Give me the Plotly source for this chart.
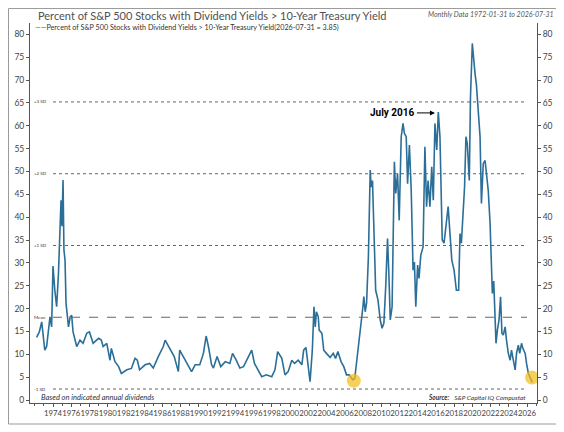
import plotly.graph_objects as go

# series (decimal year, percent)
years = [
    1972.2, 1972.5, 1972.76, 1972.94, 1973.1, 1973.3, 1973.5, 1973.67, 1973.85,
    1974.0, 1974.2, 1974.4, 1974.6, 1974.77, 1974.88, 1974.98, 1975.1, 1975.2,
    1975.32, 1975.43, 1975.7, 1975.88, 1976.05, 1976.2, 1976.6, 1976.96, 1977.3,
    1977.7, 1978.0, 1978.4, 1979.0, 1979.3, 1979.5, 1979.9, 1980.25, 1980.4,
    1980.8, 1981.2, 1981.5, 1982.1, 1982.6, 1983.0, 1983.25, 1983.5, 1984.1,
    1984.6, 1985.0, 1985.55, 1986.1, 1986.3, 1986.9, 1987.3, 1987.75, 1987.9,
    1988.2, 1988.7, 1989.2, 1989.6, 1990.1, 1990.5, 1990.8, 1991.05, 1991.4,
    1991.6, 1992.0, 1992.4, 1992.9, 1993.4, 1993.7, 1994.1, 1994.5, 1994.9,
    1995.4, 1995.8, 1996.1, 1996.5, 1996.9, 1997.4, 1998.0, 1998.35, 1998.65,
    1999.1, 1999.45, 1999.8, 2000.2, 2000.5, 2000.9, 2001.3, 2001.5, 2001.75,
    2001.98, 2002.2, 2002.45, 2002.63, 2002.77, 2002.9, 2003.1, 2003.2, 2003.5,
    2003.7, 2004.0, 2004.4, 2004.75, 2005.0, 2005.25, 2005.6, 2005.9, 2006.2,
    2006.5, 2006.9, 2007.1, 2007.4, 2007.7, 2008.0, 2008.1, 2008.25, 2008.4,
    2008.6, 2008.8, 2008.9, 2009.05, 2009.2, 2009.4, 2009.65, 2009.9, 2010.1,
    2010.3, 2010.5, 2010.7, 2010.85, 2011.0, 2011.2, 2011.45, 2011.6, 2011.8,
    2011.98, 2012.2, 2012.4, 2012.55, 2012.75, 2012.9, 2013.1, 2013.3, 2013.5,
    2013.65, 2013.8, 2014.0, 2014.15, 2014.35, 2014.6, 2014.8, 2014.98, 2015.15,
    2015.35, 2015.55, 2015.72, 2015.9, 2016.1, 2016.27, 2016.45, 2016.7, 2016.9,
    2017.1, 2017.35, 2017.55, 2017.75, 2018.0, 2018.25, 2018.5, 2018.65, 2018.8,
    2019.0, 2019.15, 2019.3, 2019.45, 2019.67, 2019.8, 2020.0, 2020.1, 2020.3,
    2020.45, 2020.65, 2020.85, 2021.0, 2021.2, 2021.4, 2021.6, 2021.75, 2021.95,
    2022.1, 2022.2, 2022.35, 2022.45, 2022.6, 2022.75, 2022.93, 2023.1, 2023.25,
    2023.4, 2023.6, 2023.75, 2023.95, 2024.15, 2024.3, 2024.5, 2024.7, 2024.85,
    2025.05, 2025.2, 2025.4, 2025.55, 2025.8, 2025.95, 2026.15, 2026.58,
]
values = [
    13.7, 14.9, 17.1, 13.8, 10.9, 11.7, 15.3, 18.2, 16.0,
    29.3, 24.0, 20.4, 27.7, 36.4, 43.7, 38.0, 48.1, 32.8,
    30.6, 21.2, 16.0, 18.2, 18.5, 14.9, 11.7, 13.1, 12.4,
    14.6, 14.9, 12.4, 13.5, 13.1, 11.7, 12.4, 8.7, 11.3,
    8.4, 7.3, 5.8, 6.6, 6.9, 9.1, 8.7, 6.6, 7.7,
    8.0, 7.0, 9.5, 11.7, 13.1, 10.9, 9.5, 6.2, 10.9,
    9.8, 8.0, 6.2, 7.7, 7.7, 10.2, 14.0, 11.7, 7.7,
    7.0, 9.5, 7.3, 8.4, 8.0, 10.2, 8.7, 7.0, 7.3,
    9.5, 10.9, 8.0, 6.6, 5.1, 5.5, 5.1, 6.6, 10.6,
    9.1, 5.5, 6.2, 8.7, 8.0, 8.7, 7.7, 10.9, 11.5,
    7.3, 4.0, 10.9, 20.4, 16.0, 19.3, 18.2, 15.3, 14.6,
    10.9, 10.2, 9.3, 10.2, 9.1, 10.6, 8.4, 7.3, 5.5,
    5.5, 4.4, 4.7, 9.5, 14.6, 20.4, 22.6, 19.3, 21.2,
    31.3, 50.3, 46.6, 48.0, 38.6, 24.0, 21.9, 17.5, 15.7,
    16.8, 24.8, 35.3, 27.4, 17.5, 20.4, 52.1, 45.2, 49.5,
    39.3, 57.6, 60.5, 58.3, 57.6, 47.3, 55.8, 45.8, 28.4,
    30.2, 20.4, 29.5, 26.6, 31.7, 33.5, 55.4, 42.3, 48.0,
    42.3, 51.0, 43.7, 60.5, 54.7, 63.0, 57.6, 35.0, 34.3,
    38.6, 42.3, 36.4, 30.6, 28.4, 24.0, 24.0, 36.4, 34.3,
    41.5, 46.6, 57.6, 56.1, 48.0, 66.3, 78.0, 75.0, 71.4,
    69.0, 64.1, 57.6, 43.0, 51.7, 52.4, 48.8, 45.8, 38.6,
    29.9, 23.3, 26.0, 20.4, 12.4, 15.3, 17.5, 22.6, 14.6,
    14.2, 16.0, 13.1, 10.2, 8.7, 10.9, 8.7, 6.6, 10.2,
    12.0, 10.2, 12.4, 11.3, 10.2, 8.0, 5.8, 3.85,
]

# highlighted lows (yellow circles)
mark_years = [2007.0, 2026.55]
mark_values = [4.2, 4.9]

# mean and standard deviation bands
band_levels = [65.2, 49.5, 33.8, 18.1, 2.4]
band_labels = ['+3 SD', '+2 SD', '+1 SD', 'Mean', '-1 SD']

x_ticks = list(range(1974, 2027, 2))
y_ticks = list(range(0, 81, 5))

line_col = '#2b6f98'
axis_col = '#555555'
font_family = 'Lato, Open Sans, sans-serif'

fig = go.Figure()
fig.add_trace(go.Scatter(x=years, y=values, mode='lines',
                         line=dict(color=line_col, width=1.6),
                         showlegend=False, hoverinfo='skip'))
fig.add_trace(go.Scatter(x=mark_years, y=mark_values, mode='markers',
                         marker=dict(size=14, color='rgba(244,188,28,0.72)'),
                         showlegend=False, hoverinfo='skip'))
# invisible copy so the right-hand axis is drawn
fig.add_trace(go.Scatter(x=years, y=values, yaxis='y2', mode='lines',
                         line=dict(width=0), opacity=0,
                         showlegend=False, hoverinfo='skip'))

for lvl, lab in zip(band_levels, band_labels):
    fig.add_shape(type='line', x0=1974, x1=2026, y0=lvl, y1=lvl,
                  xref='x', yref='y',
                  line=dict(color='#666666', width=1,
                            dash='dash' if lab == 'Mean' else 'dot'))
    fig.add_annotation(x=1971.85, y=lvl, xref='x', yref='y', text=lab,
                       showarrow=False, xanchor='left', yanchor='middle',
                       borderpad=0, font=dict(size=4.5, color='#333333'))

fig.add_annotation(x=2015.9, y=62.8, xref='x', yref='y', text='<b>July 2016</b>',
                   showarrow=True, arrowhead=2, arrowsize=1, arrowwidth=1,
                   arrowcolor='black', ax=-42, ay=0,
                   font=dict(size=10, color='black', family='Roboto, sans-serif'))

# titles and notes
fig.add_annotation(x=0.36, y=1.021, xref='paper', yref='paper',
                   text='Percent of S&amp;P 500 Stocks with Dividend Yields &gt; 10-Year Treasury Yield',
                   showarrow=False, xanchor='center', yanchor='middle',
                   font=dict(size=11, color='#505050'))
fig.add_annotation(x=1.037, y=1.024, xref='paper', yref='paper',
                   text='<i>Monthly Data 1972-01-31 to 2026-07-31</i>',
                   showarrow=False, xanchor='right', yanchor='middle',
                   font=dict(size=7, color='#555555'))
fig.add_annotation(x=0.006, y=0.989, xref='paper', yref='paper',
                   text="<span style='color:%s'>——</span>Percent of S&amp;P 500 Stocks with Dividend Yields &gt; 10-Year Treasury Yield(2026-07-31 = 3.85)" % line_col,
                   showarrow=False, xanchor='left', yanchor='middle',
                   font=dict(size=7.2, color='#333333'))
fig.add_annotation(x=0.02, y=0.014, xref='paper', yref='paper',
                   text='<i>Based on indicated annual dividends</i>',
                   showarrow=False, xanchor='left', yanchor='middle',
                   borderpad=0, font=dict(size=7.5, color='#333333'))
fig.add_annotation(x=0.98, y=0.014, xref='paper', yref='paper',
                   text='<b><i>Source:</i></b>&nbsp;&nbsp;&nbsp;<i>S&amp;P Capital IQ Compustat</i>',
                   showarrow=False, xanchor='right', yanchor='middle',
                   borderpad=0, font=dict(size=6.5, color='#333333'))

# outer frame
fig.add_shape(type='rect', xref='paper', yref='paper',
              x0=-0.0424, x1=1.0414, y0=-0.0553, y1=1.0382,
              line=dict(color='#9a9a9a', width=1))

axis_common = dict(ticks='outside', ticklen=3, tickcolor=axis_col,
                   showline=True, linecolor=axis_col, linewidth=1,
                   showgrid=False, zeroline=False, automargin=False,
                   tickfont=dict(size=8.5, color='#444444'))

fig.update_layout(
    width=556, height=424,
    margin=dict(l=22, r=27, t=15, b=29),
    paper_bgcolor='white', plot_bgcolor='white',
    font=dict(family=font_family, color=axis_col),
    xaxis=dict(range=[1971.477, 2027.097], tickvals=x_ticks,
               ticktext=[str(t) for t in x_ticks], tickangle=0,
               minor=dict(dtick=1, ticks='outside', ticklen=2, tickcolor=axis_col),
               **{**axis_common, 'tickfont': dict(size=7.8, color='#444444')}),
    yaxis=dict(range=[-0.656, 82.47], tickvals=y_ticks, **axis_common),
    yaxis2=dict(range=[-0.656, 82.47], tickvals=y_ticks, overlaying='y',
                side='right', matches='y', **axis_common),
)

fig.write_html('out.html')
